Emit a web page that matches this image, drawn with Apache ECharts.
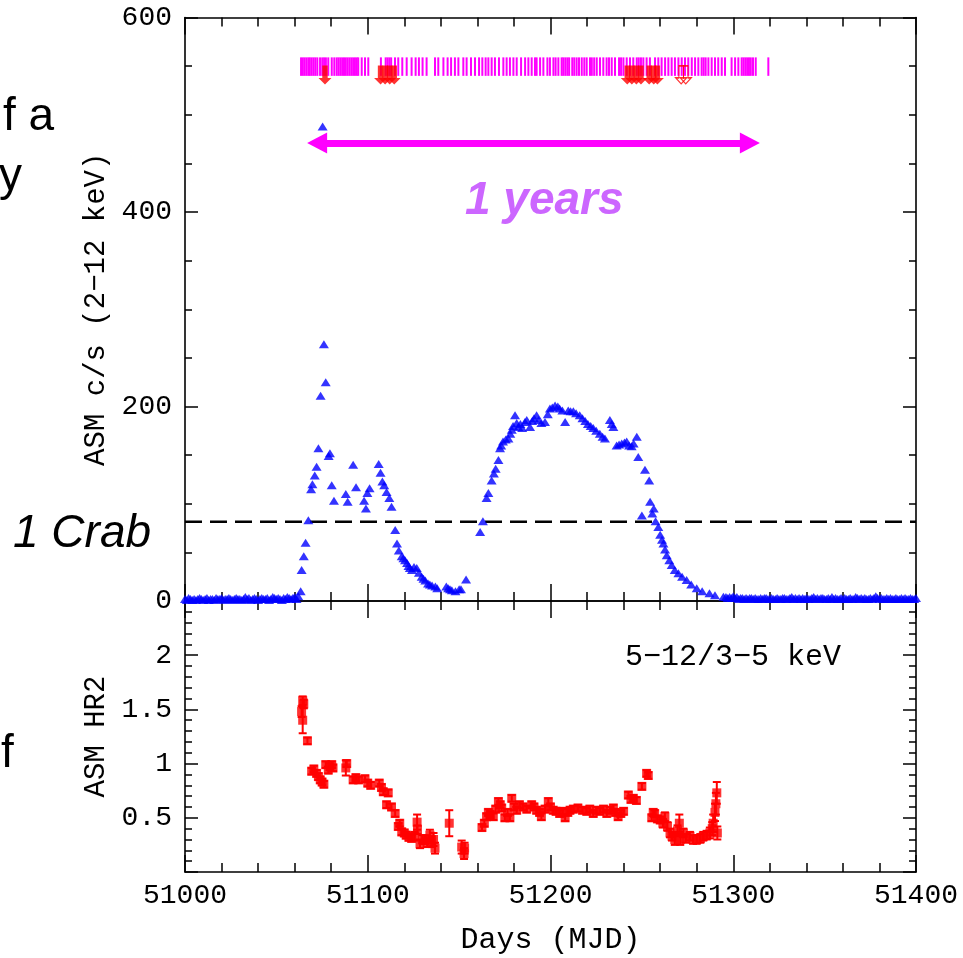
<!DOCTYPE html>
<html><head><meta charset="utf-8">
<script src="https://cdn.jsdelivr.net/npm/echarts@6/dist/echarts.min.js"></script>
<style>html,body{margin:0;padding:0;background:#fff}#c{width:963px;height:958px}</style>
</head><body><div id="c"></div>
<script>
// ---- tick labels / axis ranges ----
const dayTicks = [51000, 51100, 51200, 51300, 51400];
const rateTicks = [0, 200, 400, 600];
const hrTicks = [0.5, 1, 1.5, 2];

// ---- ASM count rate (2-12 keV) ----
// quiet level before the outburst: one value per day from MJD 51000
const quietStart = 51000;
const quietRates = [2,1,3,2,1,2,1,2,3,2,1,2,3,1,2,2,1,3,2,2,3,1,2,2,3,2,1,2,3,2,2,1,2,4,2,3,1,2,3,2,1,2,3,2,2,3,1,2,4,3,2,3,2,1,3,2,4,3,2,3,4,2,5];
// [MJD, c/s]
const asmFirst = [[51063.3,10],[51063.8,32],[51065,46],[51066,60],[51067.5,83],[51069,115],[51069.7,120],[51071,129],[51072,138],[51073,157],[51074.2,211],[51075.3,488],[51076,264],[51077,225],[51078.6,149],[51079.3,152],[51080.3,119],[51081.5,103],[51088,110],[51089,102],[51092,140],[51093.6,117],[51098,103],[51099,95],[51099.8,111],[51101,116],[51106,141],[51107,132],[51108,123],[51109,119],[51110.3,112],[51111.8,106],[51113,97],[51115,73],[51116,59],[51117,52],[51118.6,46],[51119.5,44],[51120.4,42],[51121.5,39],[51122.3,36],[51123,34],[51124.2,32],[51125.3,35],[51126.8,34],[51128,29],[51129.5,25],[51130.5,23],[51131.5,21],[51133,18],[51134,17],[51135.2,16],[51137,15],[51138,13],[51143,15],[51144,13],[51145,12],[51146,11],[51148,10],[51150,12],[51151,12],[51153.8,22]];
const asmSecond = [[51161.5,71],[51163,82],[51165,106],[51166,111],[51167.8,124],[51169,131],[51170,136],[51171.5,145],[51172.4,157],[51173,160],[51174,164],[51175.5,166],[51177,167],[51178,172],[51178.8,176],[51179.5,180],[51180.6,191],[51181.5,183],[51182.4,179],[51183.5,182],[51184.5,178],[51186,184],[51187,186],[51188.8,179],[51190,185],[51191,188],[51192.4,191],[51193.5,186],[51195,183],[51197,184],[51198.5,192],[51199.7,198],[51201,199],[51202.5,201],[51204,200],[51205,198],[51206.5,196],[51208,184],[51209.7,196],[51211,195],[51212.5,195],[51214,193],[51216,191],[51217.5,188],[51219,185],[51220.5,182],[51222,180],[51223.4,178],[51225,175],[51227,172],[51228.5,169],[51229.8,167],[51232.5,186],[51233.5,182],[51234.4,179],[51236.2,160],[51237.5,161],[51239,162],[51240.5,163],[51241.7,164],[51243,160],[51244.4,159],[51245.5,162],[51247.2,169],[51248,148],[51250,88],[51251.7,135],[51254,124],[51254.5,102],[51255.7,90],[51256.5,95],[51257.5,82],[51259,76],[51260,68],[51261,63],[51261.8,59],[51262.7,53],[51263.6,47],[51265,42],[51266.3,37],[51268,32],[51270,28.5],[51272,25],[51274.5,21.6],[51277,17],[51280,13],[51283,10],[51287,8],[51290,6],[51294.6,4.4]];
// quiet level after the outburst: one value per day from MJD 51296
const tailStart = 51296;
const tailRates = [4,3,4,3,5,3,4,2,3,3,2,3,2,3,3,2,3,2,2,3,2,3,3,2,2,3,2,2,3,2,2,3,3,2,2,3,4,2,3,2,3,2,3,2,3,2,2,3,4,2,3,2,3,3,2,2,3,2,4,2,3,2,2,3,2,3,2,2,3,2,2,4,3,2,3,2,3,2,2,3,2,3,5,3,2,3,2,2,3,2,3,2,2,3,2,2,3,2,3,2,2,3,2,2,3];

// ---- annotations ----
const crabLevel = 81.5;
const spanArrowDays = [51072.3, 51309.1];
const spanArrowLevel = 471;
const stripRange = [540, 559];
const limitLevel = 541;
// observation marks (MJD)
const obsDays = [51063.5,51064.5,51065.5,51066.5,51067.5,51068.3,51069.3,51070.3,51071.3,51072.4,51073.9,51075.1,51076.1,51077.1,51078.4,51080.3,51081.7,51083,51084,51085,51086,51087,51088,51089,51090,51091,51092,51093,51094,51094.8,51096.7,51098.5,51100.3,51107.2,51109.8,51110.8,51111.8,51112.8,51114.9,51116.7,51118.9,51121.3,51124,51126.2,51128,51130,51132.2,51136.8,51138.6,51141.4,51143.7,51145.6,51147.7,51149.6,51152.3,51154.1,51156.5,51158.7,51160.9,51162.7,51164.5,51166,51167.8,51169.6,51171.8,51174.2,51176,51177.8,51179.7,51181.5,51183.9,51186.1,51187.9,51189.7,51191.5,51192.4,51194.3,51196.1,51198.3,51199.7,51201.6,51202.8,51204.3,51206.1,51207,51208.1,51209.2,51210.2,51211.9,51213,51214.3,51215.6,51217.1,51218.5,51219.8,51221.6,51222.6,51223.9,51225.3,51227.1,51228.9,51230.7,51232,51233.5,51235.3,51237.5,51238.6,51239.9,51241.7,51243.5,51245.3,51247.2,51248.3,51249.5,51250.8,51252.6,51254.4,51257.2,51259,51260.8,51262.7,51264.5,51266.3,51268.1,51270,51271.8,51273.6,51275.4,51277.3,51279.1,51280.9,51282.7,51283.8,51284.9,51286.4,51288.2,51290,51291.8,51293.7,51295.5,51299.1,51301,51302.8,51304.6,51305.6,51306.6,51307.6,51308.6,51309.6,51310.8,51312.3,51319.2];
const limitDays = [51076.6,51107,51109.5,51112,51114.5,51242,51244.5,51247,51249.5,51254,51256.5,51258.5];
const limitDaysFaint = [51271.5,51274];

// ---- ASM HR2 (5-12/3-5 keV), [MJD, ratio, error] ----
const hrPoints = [[51063.8,1.48,0.05],[51064.4,1.58,0.04],[51065,1.55,0.04],[51064.4,1.40,0.12],[51067,1.21,0.03],[51069.3,0.93,0.03],[51070.5,0.95,0.03],[51072,0.91,0.03],[51073,0.88,0.03],[51074,0.85,0.03],[51075,0.83,0.03],[51076,0.81,0.03],[51077,0.99,0.03],[51078.4,0.94,0.03],[51079.3,0.97,0.03],[51080.3,0.99,0.03],[51081,0.96,0.03],[51088,0.96,0.07],[51088.5,1.0,0.03],[51092,0.85,0.03],[51093.5,0.87,0.03],[51095,0.85,0.03],[51098.5,0.86,0.03],[51100,0.82,0.03],[51101.6,0.80,0.03],[51106.3,0.82,0.03],[51107.5,0.78,0.03],[51108.5,0.74,0.03],[51110.3,0.62,0.03],[51111.2,0.73,0.03],[51113,0.60,0.03],[51115,0.54,0.03],[51116.7,0.42,0.03],[51117.5,0.45,0.03],[51118.6,0.37,0.03],[51120,0.36,0.03],[51121,0.34,0.03],[51122.5,0.32,0.03],[51124,0.31,0.03],[51125.5,0.33,0.04],[51127,0.46,0.07],[51127.2,0.39,0.04],[51128.6,0.26,0.04],[51130,0.30,0.04],[51131.3,0.30,0.04],[51132.5,0.27,0.04],[51134,0.34,0.05],[51135,0.28,0.05],[51136,0.30,0.06],[51136.8,0.22,0.05],[51144.6,0.45,0.12],[51151.4,0.23,0.06],[51152.7,0.17,0.05],[51153,0.22,0.05],[51162.5,0.41,0.03],[51163.8,0.45,0.03],[51165,0.51,0.03],[51166,0.55,0.03],[51167,0.53,0.03],[51168.7,0.51,0.03],[51170,0.58,0.03],[51171.5,0.65,0.03],[51172.5,0.62,0.03],[51173.3,0.59,0.03],[51175,0.50,0.03],[51176.5,0.55,0.03],[51177.8,0.50,0.03],[51178.8,0.68,0.03],[51180,0.60,0.03],[51181.5,0.57,0.03],[51183,0.62,0.03],[51185,0.60,0.03],[51187,0.58,0.03],[51189.7,0.62,0.03],[51191,0.60,0.03],[51192.4,0.57,0.03],[51194,0.55,0.03],[51195,0.51,0.03],[51197,0.58,0.03],[51198.8,0.65,0.03],[51200,0.60,0.03],[51201.5,0.57,0.03],[51203,0.56,0.03],[51205,0.54,0.03],[51206.5,0.56,0.03],[51208,0.50,0.03],[51209.5,0.55,0.03],[51210.7,0.57,0.03],[51212.5,0.58,0.03],[51215,0.59,0.03],[51217.5,0.57,0.03],[51219.8,0.56,0.03],[51221.5,0.58,0.03],[51223.4,0.54,0.03],[51225,0.57,0.03],[51227,0.56,0.03],[51229,0.58,0.03],[51230.8,0.54,0.03],[51232.5,0.57,0.03],[51234.4,0.59,0.03],[51235.5,0.55,0.03],[51237,0.51,0.03],[51238.5,0.54,0.03],[51240,0.56,0.03],[51242.6,0.71,0.03],[51244,0.67,0.03],[51245.3,0.68,0.03],[51247,0.66,0.03],[51250,0.79,0.03],[51252.6,0.91,0.03],[51253.5,0.89,0.03],[51255.4,0.50,0.03],[51256.2,0.55,0.03],[51257,0.54,0.03],[51258.5,0.49,0.03],[51260,0.48,0.03],[51261.5,0.45,0.04],[51262.6,0.51,0.04],[51264,0.42,0.04],[51265.4,0.36,0.04],[51266.5,0.33,0.04],[51268,0.30,0.05],[51269.5,0.38,0.05],[51270.5,0.45,0.08],[51271,0.30,0.05],[51272.7,0.36,0.04],[51274,0.31,0.04],[51276.3,0.33,0.04],[51278,0.30,0.04],[51280,0.30,0.04],[51282,0.31,0.04],[51283.6,0.33,0.04],[51285.5,0.34,0.04],[51287.2,0.36,0.05],[51288.5,0.40,0.06],[51289,0.45,0.08],[51290,0.55,0.08],[51290.5,0.63,0.1],[51291,0.73,0.1],[51291.3,0.36,0.06]];

const asmAll = quietRates.map((r, i) => [quietStart + i, r])
  .concat(asmFirst, asmSecond, tailRates.map((r, i) => [tailStart + i, r]));

const MONO = '"Liberation Mono", "Courier New", monospace';
const BLK = '#000';

function xAxisDef(grid, pos, labels, name) {
  return {
    type: 'value', gridIndex: grid, position: pos,
    min: dayTicks[0], max: dayTicks[dayTicks.length - 1], interval: 100,
    axisLine: { show: true, onZero: false, lineStyle: { color: BLK, width: 1.6 } },
    axisTick: { show: true, inside: true, length: 17, lineStyle: { color: BLK, width: 1.5 } },
    minorTick: { show: true, splitNumber: 5, length: 9, lineStyle: { color: BLK, width: 1.5 } },
    splitLine: { show: false }, minorSplitLine: { show: false },
    axisLabel: { show: labels, margin: 10, fontFamily: MONO, fontSize: 28, color: BLK,
      formatter: v => dayTicks.indexOf(v) >= 0 ? String(v) : '' },
    name: name || '', nameLocation: 'middle', nameGap: 53,
    nameTextStyle: { fontFamily: MONO, fontSize: 30, color: BLK }
  };
}
function yAxisDef(grid, pos, min, max, interval, split, labels, ticks, name) {
  return {
    type: 'value', gridIndex: grid, position: pos, min: min, max: max, interval: interval,
    axisLine: { show: true, onZero: false, lineStyle: { color: BLK, width: 1.6 } },
    axisTick: { show: true, inside: true, length: 13, lineStyle: { color: BLK, width: 1.5 } },
    minorTick: { show: true, splitNumber: split, length: 7, lineStyle: { color: BLK, width: 1.5 } },
    splitLine: { show: false }, minorSplitLine: { show: false },
    axisLabel: { show: labels, margin: 13, fontFamily: MONO, fontSize: 28, color: BLK,
      formatter: v => { const m = ticks.find(t => Math.abs(t - v) < 1e-9); return m === undefined ? '' : String(m); } },
    name: name || '', nameLocation: 'middle', nameGap: 72, nameRotate: 90,
    nameTextStyle: { fontFamily: MONO, fontSize: 29, color: BLK }
  };
}

const arrowPath = 'path://M3.5,0 L8.5,0 L8.5,12 L12,12 L6,18 L0,12 L3.5,12 Z';

const chart = echarts.init(document.getElementById('c'), null, { renderer: 'canvas' });
chart.setOption({
  animation: false,
  backgroundColor: '#fff',
  grid: [
    { left: 185, top: 17.5, width: 731, height: 583.5 },
    { left: 185, top: 601, width: 731, height: 271 }
  ],
  xAxis: [
    xAxisDef(0, 'bottom', false),
    xAxisDef(0, 'top', false),
    xAxisDef(1, 'bottom', true, 'Days (MJD)'),
    xAxisDef(1, 'top', false)
  ],
  yAxis: [
    yAxisDef(0, 'left', 0, 600, 200, 4, true, rateTicks, 'ASM c/s (2\u221212 keV)'),
    yAxisDef(0, 'right', 0, 600, 200, 4, false, rateTicks),
    yAxisDef(1, 'left', 0, 2.5, 0.5, 5, true, hrTicks, 'ASM HR2'),
    yAxisDef(1, 'right', 0, 2.5, 0.5, 5, false, hrTicks)
  ],
  series: [
    { // observation strip
      type: 'custom', xAxisIndex: 0, yAxisIndex: 0, z: 2, clip: false,
      data: obsDays.map(d => [d, stripRange[0]]),
      renderItem: (params, api) => {
        const a = api.coord([api.value(0), stripRange[0]]);
        const b = api.coord([api.value(0), stripRange[1]]);
        return { type: 'rect', shape: { x: a[0] - 1, y: b[1], width: 2, height: a[1] - b[1] },
          style: { fill: '#ff00ff' } };
      }
    },
    { // 1 Crab level + span arrow
      type: 'line', xAxisIndex: 0, yAxisIndex: 0, z: 3,
      data: [[dayTicks[0], crabLevel], [dayTicks[dayTicks.length - 1], crabLevel]],
      symbol: 'none', lineStyle: { color: BLK, width: 2.5, type: [17, 8] },
      markLine: {
        silent: true, animation: false,
        symbol: ['triangle', 'triangle'], symbolSize: [21, 20],
        lineStyle: { color: '#ff00ff', width: 7, type: 'solid' },
        label: { show: false },
        data: [[{ coord: [spanArrowDays[0], spanArrowLevel] }, { coord: [spanArrowDays[1], spanArrowLevel] }]]
      }
    },
    { // ASM rate
      type: 'scatter', xAxisIndex: 0, yAxisIndex: 0, z: 4, clip: false,
      data: asmAll, symbol: 'triangle', symbolSize: [10, 8],
      itemStyle: { color: '#0000ff' }
    },
    { // upper-limit arrows
      type: 'scatter', xAxisIndex: 0, yAxisIndex: 0, z: 5,
      data: limitDays.map(d => [d, limitLevel]), symbol: arrowPath, symbolSize: [13, 19],
      itemStyle: { color: '#ff0000' }
    },
    {
      type: 'scatter', xAxisIndex: 0, yAxisIndex: 0, z: 5,
      data: limitDaysFaint.map(d => [d, limitLevel]), symbol: arrowPath, symbolSize: [11, 18],
      itemStyle: { color: 'rgba(255,255,255,0)', borderColor: '#ff0000', borderWidth: 1.2 }
    },
    { // HR2 error bars
      type: 'custom', xAxisIndex: 2, yAxisIndex: 2, z: 3,
      data: hrPoints,
      renderItem: (params, api) => {
        const x = api.value(0), y = api.value(1), e = api.value(2);
        const lo = api.coord([x, y - e]), hi = api.coord([x, y + e]);
        const st = { stroke: '#ff0000', lineWidth: 2 };
        return { type: 'group', children: [
          { type: 'line', shape: { x1: lo[0], y1: lo[1], x2: hi[0], y2: hi[1] }, style: st },
          { type: 'line', shape: { x1: lo[0] - 4, y1: lo[1], x2: lo[0] + 4, y2: lo[1] }, style: st },
          { type: 'line', shape: { x1: hi[0] - 4, y1: hi[1], x2: hi[0] + 4, y2: hi[1] }, style: st }
        ] };
      }
    },
    { // HR2 points
      type: 'scatter', xAxisIndex: 2, yAxisIndex: 2, z: 4,
      data: hrPoints.map(p => [p[0], p[1]]), symbol: 'rect', symbolSize: 9,
      itemStyle: { color: '#ff0000' }
    }
  ],
  graphic: [
    { type: 'text', x: 3, y: 117, style: { text: 'f a', font: '46px "Liberation Sans", Arial, sans-serif', fill: BLK, verticalAlign: 'middle' } },
    { type: 'text', x: -1, y: 177, style: { text: 'y', font: '46px "Liberation Sans", Arial, sans-serif', fill: BLK, verticalAlign: 'middle' } },
    { type: 'text', x: 13, y: 534, style: { text: '1 Crab', font: 'italic 46px "Liberation Sans", Arial, sans-serif', fill: BLK, verticalAlign: 'middle' } },
    { type: 'text', x: 1, y: 754, style: { text: 'f', font: '46px "Liberation Sans", Arial, sans-serif', fill: BLK, verticalAlign: 'middle' } },
    { type: 'text', x: 465, y: 201, style: { text: '1 years', font: 'italic bold 46px "Liberation Sans", Arial, sans-serif', fill: '#cc66ff', verticalAlign: 'middle' } },
    { type: 'text', x: 625, y: 657, style: { text: '5\u221212/3\u22125 keV', font: '30px ' + MONO, fill: BLK, verticalAlign: 'middle' } }
  ]
});
</script>
</body></html>
